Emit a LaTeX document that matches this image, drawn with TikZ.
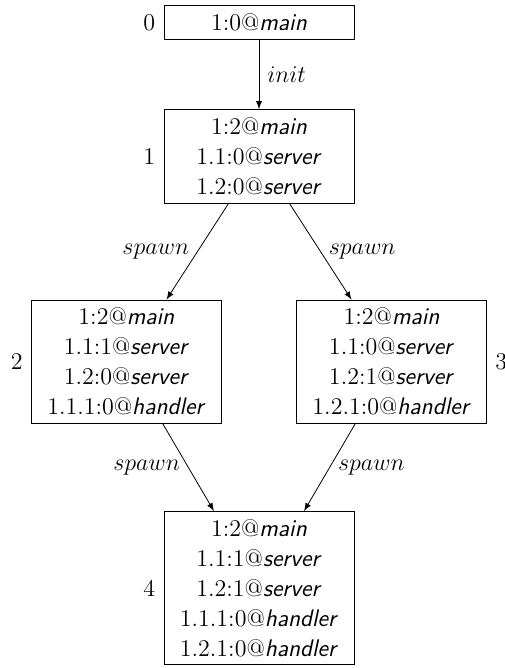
\documentclass[tikz,border=0pt,12pt]{standalone}
\usepackage{fontspec}
\usepackage{xcolor}
\usepackage{amsmath}
\usepackage{tikz}

\newcommand{\proc}[1]{\textsf{\textit{#1}}}

\begin{document}
\begin{tikzpicture}[node distance={23.5mm}, >=latex, main/.style = {draw, rectangle, minimum width=95pt, inner ysep=4pt, align=center, font=\fontsize{12}{15}\selectfont}]
\useasboundingbox (-129.5pt,11.25pt) rectangle ++(252pt,-334pt);
\node[main, label=left:0] (0) {1:0@\proc{main}};
\node[main, label=left:1] (1) [below of=0] {1:2@\proc{main}\\
1.1:0@\proc{server}\\
1.2:0@\proc{server}};
\node[main, label=left:2] (2) [below of=1, xshift=-23.3mm, yshift=-12.6mm] {1:2@\proc{main}\\
1.1:1@\proc{server}\\
1.2:0@\proc{server}\\
1.1.1:0@\proc{handler}};
\node[main, label=right:3] (3) [below of=1, xshift=23.3mm, yshift=-12.6mm] {1:2@\proc{main}\\
1.1:0@\proc{server}\\
1.2:1@\proc{server}\\
1.2.1:0@\proc{handler}};
\node[main, label=left:4] (4) [below of=2, xshift=23.3mm, yshift=-16.3mm] {1:2@\proc{main}\\
1.1:1@\proc{server}\\
1.2:1@\proc{server}\\
1.1.1:0@\proc{handler}\\
1.2.1:0@\proc{handler}};
\draw[->] (0) -- node[right] {$init$} (1);
\draw[->] (1) -- node[left] {$spawn$} (2);
\draw[->] (1) -- node[right] {$spawn$} (3);
\draw[->] (2) -- node[left] {$spawn$} (4);
\draw[->] (3) -- node[right] {$spawn$} (4);
\end{tikzpicture}
\end{document}
